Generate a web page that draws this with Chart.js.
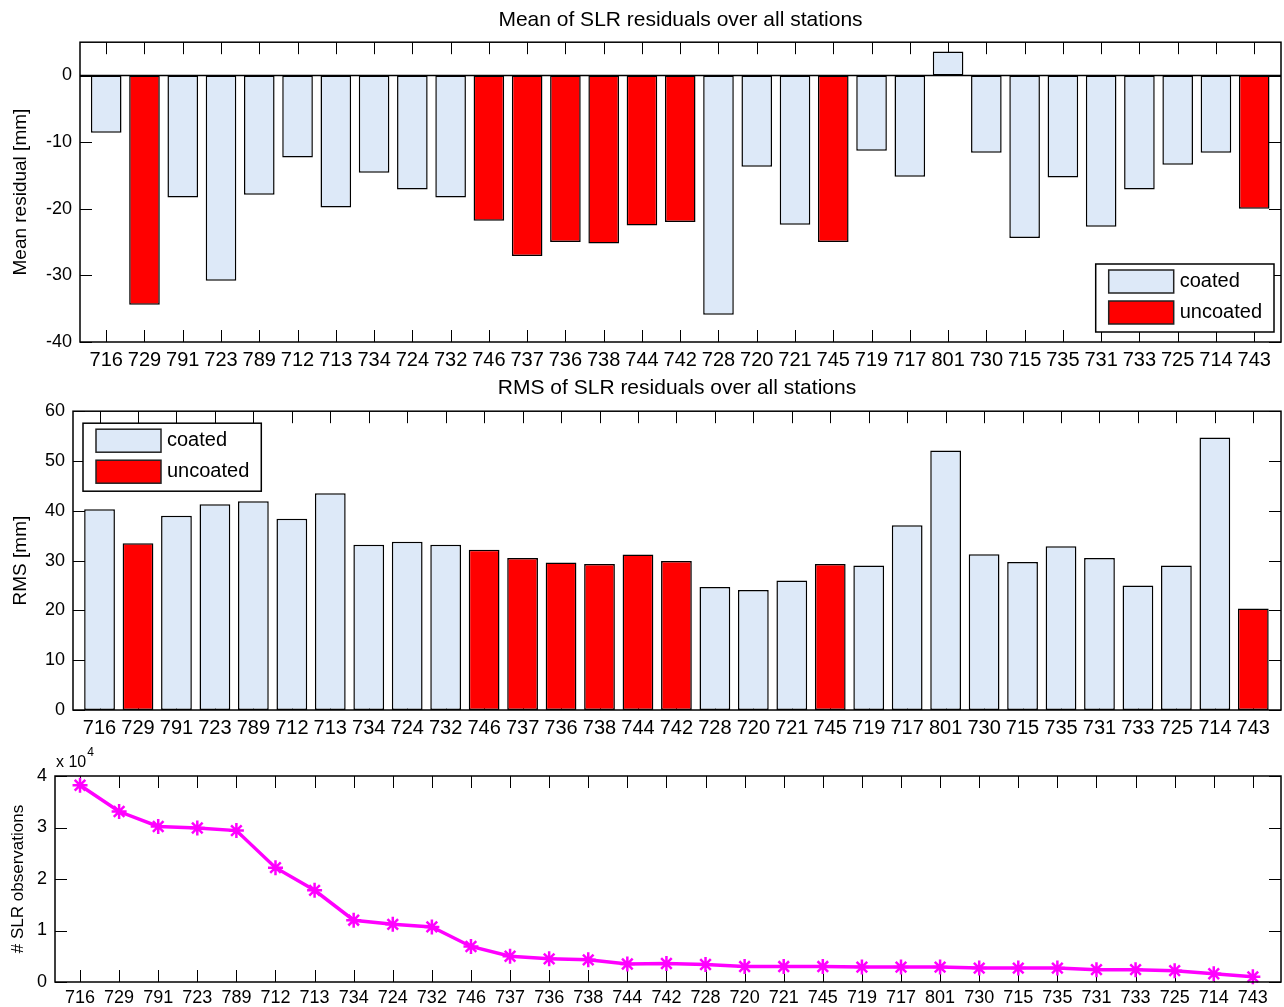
<!DOCTYPE html>
<html>
<head>
<meta charset="utf-8">
<title>SLR residuals per station</title>
<script src="https://cdn.jsdelivr.net/npm/chart.js@4.4.0/dist/chart.umd.min.js"></script>
<style>
    body { margin: 0; background: #fff; }
    canvas { position: absolute; left: 0; }
    #graphMean { top: 0; }
    #graphRms { top: 370px; }
    #graphObs { top: 739px; }
</style>
</head>
<body>
<canvas id="graphMean" width="1284" height="370"></canvas>
<canvas id="graphRms" width="1284" height="369"></canvas>
<canvas id="graphObs" width="1284" height="268"></canvas>
<script>
/******************************************* DATOS *******************************************************************/
const stations = ["716", "729", "791", "723", "789", "712", "713", "734", "724", "732", "746", "737", "736", "738", "744", "742",
    "728", "720", "721", "745", "719", "717", "801", "730", "715", "735", "731", "733", "725", "714", "743"];

// estaciones sin recubrimiento (barras rojas)
const uncoatedStations = ["729", "746", "737", "736", "738", "744", "742", "745", "743"];

// media de residuos [mm]
const meanResidual = [-8.6, -34.4, -18.3, -30.8, -17.9, -12.3, -19.8, -14.6, -17.1, -18.3, -21.8, -27.1, -25.0, -25.2, -22.5, -22.0,
    -35.9, -13.7, -22.4, -25.0, -11.3, -15.2, 3.6, -11.6, -24.4, -15.3, -22.7, -17.1, -13.4, -11.6, -20.0];

// RMS de residuos [mm]
const rmsResidual = [40.3, 33.5, 39.0, 41.3, 41.9, 38.4, 43.5, 33.2, 33.8, 33.2, 32.2, 30.5, 29.6, 29.3, 31.2, 29.9,
    24.7, 24.1, 26.0, 29.3, 29.0, 37.1, 52.1, 31.3, 29.7, 32.9, 30.5, 25.0, 29.0, 54.7, 20.4];

// numero de observaciones SLR
const slrObservations = [38200, 33100, 30200, 29900, 29400, 22200, 17800, 12000, 11200, 10700, 6900, 5000, 4500, 4300, 3500, 3600,
    3400, 3000, 3000, 3000, 2900, 2900, 2900, 2700, 2700, 2700, 2400, 2400, 2200, 1600, 1000];

const meanTicks = [-40, -30, -20, -10, 0];
const rmsTicks = [0, 10, 20, 30, 40, 50, 60];
const obsTicks = [0, 10000, 20000, 30000, 40000];

const coatedColor = "#dde9f8";
const uncoatedColor = "#ff0000";
/**************************************************************************************************************************/

const fontTitle = { family: "'Liberation Sans', Arial, sans-serif", size: 21, weight: "normal" };
const fontTicksX = { family: "'Liberation Sans Narrow', 'Liberation Sans', Arial, sans-serif", size: 20, weight: "normal" };
const fontTicksY = { family: "'Liberation Sans', Arial, sans-serif", size: 18, weight: "normal" };

// separar los valores en coated / uncoated como puntos {x, y}
function splitByCoating(values) {
    const coated = [];
    const uncoated = [];
    for (let i = 0; i < stations.length; i++) {
        const point = { x: i + 1, y: values[i] };
        if (uncoatedStations.includes(stations[i])) {
            uncoated.push(point);
        } else {
            coated.push(point);
        }
    }
    return { coated, uncoated };
}

// marcas hacia dentro en los cuatro lados, estilo matlab
const axisTicks = {
    id: "axisTicks",
    beforeDatasetsDraw(chart) {
        const { ctx, chartArea: a, scales } = chart;
        const len = 12;
        ctx.save();
        ctx.strokeStyle = "#000";
        ctx.lineWidth = 1;
        ctx.beginPath();
        scales.x.ticks.forEach((t) => {
            const px = Math.round(scales.x.getPixelForValue(t.value)) + 0.5;
            ctx.moveTo(px, a.top);
            ctx.lineTo(px, a.top + len);
            ctx.moveTo(px, a.bottom);
            ctx.lineTo(px, a.bottom - len);
        });
        scales.y.ticks.forEach((t) => {
            const py = Math.round(scales.y.getPixelForValue(t.value)) + 0.5;
            ctx.moveTo(a.left, py);
            ctx.lineTo(a.left + len, py);
            ctx.moveTo(a.right, py);
            ctx.lineTo(a.right - len, py);
        });
        ctx.stroke();
        ctx.restore();
    },
    afterDatasetsDraw(chart, args, opts) {
        const { ctx, chartArea: a, scales } = chart;
        ctx.save();
        ctx.strokeStyle = "#000";
        ctx.lineWidth = 1.5;
        ctx.strokeRect(a.left, a.top, a.right - a.left, a.bottom - a.top);
        // linea base en cero
        if (opts.baseline) {
            const y0 = scales.y.getPixelForValue(0);
            ctx.beginPath();
            ctx.moveTo(a.left, y0);
            ctx.lineTo(a.right, y0);
            ctx.stroke();
        }
        ctx.restore();
    },
};

// leyenda dentro del area del grafico
const boxLegend = {
    id: "boxLegend",
    afterDraw(chart, args, opts) {
        if (!opts.corner) return;
        const { ctx, chartArea: a } = chart;
        const items = chart.data.datasets;
        ctx.save();
        ctx.font = "20px 'Liberation Sans', Arial, sans-serif";
        let textW = 0;
        items.forEach((d) => (textW = Math.max(textW, ctx.measureText(d.label).width)));
        const swW = 65, swH = 23, padL = 13, gap = 6, rowH = 31;
        const boxW = padL + swW + gap + textW + 12;
        const boxH = 68;
        let bx, by;
        if (opts.corner === "bottomRight") {
            bx = a.right - 7 - boxW;
            by = a.bottom - 10 - boxH;
        } else {
            bx = a.left + 10;
            by = a.top + 12;
        }
        ctx.fillStyle = "#fff";
        ctx.fillRect(bx, by, boxW, boxH);
        ctx.strokeStyle = "#000";
        ctx.lineWidth = 1.5;
        ctx.strokeRect(bx, by, boxW, boxH);
        items.forEach((d, i) => {
            const sy = by + 6 + i * rowH;
            ctx.fillStyle = d.backgroundColor;
            ctx.fillRect(bx + padL, sy, swW, swH);
            ctx.strokeStyle = "#222";
            ctx.strokeRect(bx + padL, sy, swW, swH);
            ctx.fillStyle = "#000";
            ctx.textBaseline = "middle";
            ctx.textAlign = "left";
            ctx.fillText(d.label, bx + padL + swW + gap, sy + swH / 2);
        });
        ctx.restore();
    },
};

// "x 10^4" encima del eje y
const axisExponent = {
    id: "axisExponent",
    afterDraw(chart, args, opts) {
        if (!opts.text) return;
        const { ctx, chartArea: a } = chart;
        ctx.save();
        ctx.fillStyle = "#000";
        ctx.textBaseline = "alphabetic";
        ctx.font = "16px 'Liberation Sans', Arial, sans-serif";
        ctx.fillText(opts.text, a.left + 1, a.top - 9);
        const w = ctx.measureText(opts.text).width;
        ctx.font = "12px 'Liberation Sans', Arial, sans-serif";
        ctx.fillText(opts.power, a.left + 2 + w, a.top - 20);
        ctx.restore();
    },
};

function xScale(min, max, padding, font, height) {
    return {
        type: "linear",
        min: min,
        max: max,
        offset: false,
        afterBuildTicks: (scale) => {
            scale.ticks = stations.map((s, i) => ({ value: i + 1 }));
        },
        afterFit: (scale) => {
            scale.height = height;
        },
        ticks: {
            callback: (value) => stations[value - 1],
            autoSkip: false,
            maxRotation: 0,
            minRotation: 0,
            padding: padding,
            color: "#000",
            font: font,
        },
        grid: { display: false, drawTicks: false },
        border: { display: false },
    };
}

function yScale(min, max, tickValues, width, titleText, titleSize, titlePad, labelFn) {
    return {
        min: min,
        max: max,
        afterBuildTicks: (scale) => {
            scale.ticks = tickValues.map((v) => ({ value: v }));
        },
        afterFit: (scale) => {
            scale.width = width;
        },
        ticks: {
            padding: 8,
            color: "#000",
            font: fontTicksY,
            callback: labelFn || ((v) => v),
        },
        grid: { display: false, drawTicks: false },
        border: { display: false },
        title: {
            display: true,
            text: titleText,
            color: "#000",
            font: { family: "'Liberation Sans', Arial, sans-serif", size: titleSize, weight: "normal" },
            padding: { top: titlePad, bottom: 0 },
        },
    };
}

function barDatasets(values) {
    const parts = splitByCoating(values);
    const common = {
        borderColor: "#000",
        borderWidth: 1.5,
        borderSkipped: false,
        grouped: false,
        barPercentage: 0.8,
        categoryPercentage: 1,
    };
    return [
        Object.assign({ label: "coated", data: parts.coated, backgroundColor: coatedColor }, common),
        Object.assign({ label: "uncoated", data: parts.uncoated, backgroundColor: uncoatedColor }, common),
    ];
}

/******************************************* GRAFICA MEDIA ****************************************************************/
new Chart(document.getElementById("graphMean"), {
    type: "bar",
    data: { datasets: barDatasets(meanResidual) },
    options: {
        responsive: false,
        animation: false,
        layout: { autoPadding: false, padding: { left: 0, right: 3, top: 0, bottom: 0 } },
        scales: {
            x: xScale(0.315, 31.7, 6, fontTicksX, 28),
            y: yScale(-40, 5, meanTicks, 80, "Mean residual [mm]", 19, 9),
        },
        plugins: {
            legend: { display: false },
            tooltip: { enabled: false },
            title: {
                display: true,
                fullSize: false,
                text: "Mean of SLR residuals over all stations",
                color: "#000",
                font: fontTitle,
                padding: { top: 8, bottom: 9 },
            },
            axisTicks: { baseline: true },
            boxLegend: { corner: "bottomRight" },
        },
    },
    plugins: [axisTicks, boxLegend],
});

/******************************************* GRAFICA RMS ******************************************************************/
new Chart(document.getElementById("graphRms"), {
    type: "bar",
    data: { datasets: barDatasets(rmsResidual) },
    options: {
        responsive: false,
        animation: false,
        layout: { autoPadding: false, padding: { left: 0, right: 3, top: 0, bottom: 0 } },
        scales: {
            x: xScale(0.31, 31.72, 6, fontTicksX, 29),
            y: yScale(0, 60, rmsTicks, 73, "RMS [mm]", 19, 9),
        },
        plugins: {
            legend: { display: false },
            tooltip: { enabled: false },
            title: {
                display: true,
                fullSize: false,
                text: "RMS of SLR residuals over all stations",
                color: "#000",
                font: fontTitle,
                padding: { top: 6, bottom: 10 },
            },
            boxLegend: { corner: "topLeft" },
        },
    },
    plugins: [axisTicks, boxLegend],
});

/******************************************* GRAFICA OBSERVACIONES ********************************************************/
new Chart(document.getElementById("graphObs"), {
    type: "line",
    data: {
        datasets: [
            {
                label: "# SLR observations",
                data: slrObservations.map((v, i) => ({ x: i + 1, y: v })),
                borderColor: "#ff00ff",
                backgroundColor: "#ff00ff",
                borderWidth: 3.5,
                pointStyle: "star",
                pointRadius: 7.5,
                pointBorderWidth: 2.5,
                pointBorderColor: "#ff00ff",
                tension: 0,
                clip: false,
            },
        ],
    },
    options: {
        responsive: false,
        animation: false,
        layout: { autoPadding: false, padding: { left: 0, right: 3, top: 37, bottom: 0 } },
        scales: {
            x: xScale(0.36, 31.72, 5, Object.assign({}, fontTicksX, { size: 18 }), 25),
            y: yScale(0, 40000, obsTicks, 55, "# SLR observations", 17, 8, (v) => v / 10000),
        },
        plugins: {
            legend: { display: false },
            tooltip: { enabled: false },
            axisExponent: { text: "x 10", power: "4" },
        },
    },
    plugins: [axisTicks, axisExponent],
});
</script>
</body>
</html>
